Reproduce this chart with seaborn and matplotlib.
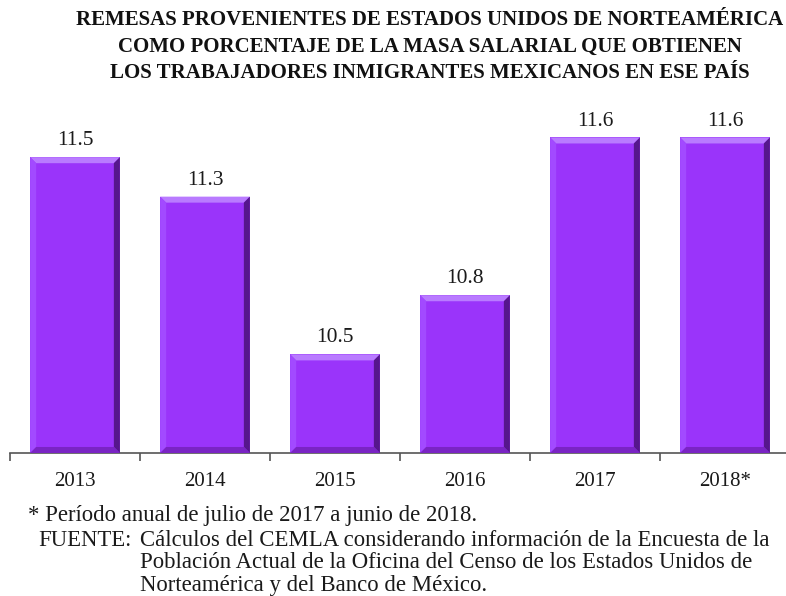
import matplotlib
matplotlib.use("Agg")
import matplotlib.pyplot as plt
from matplotlib.patches import Polygon
import seaborn as sns
import pandas as pd

years = ["2013", "2014", "2015", "2016", "2017", "2018*"]
shares = [11.5, 11.3, 10.5, 10.8, 11.6, 11.6]

title_lines = [
    "REMESAS PROVENIENTES DE ESTADOS UNIDOS DE NORTEAMÉRICA",
    "COMO PORCENTAJE DE LA MASA SALARIAL QUE OBTIENEN",
    "LOS TRABAJADORES INMIGRANTES MEXICANOS EN ESE PAÍS",
]
note = "* Período anual de julio de 2017 a junio de 2018."
source_head = "FUENTE:"
source_lines = [
    "Cálculos del CEMLA considerando información de la Encuesta de la",
    "Población Actual de la Oficina del Censo de los Estados Unidos de",
    "Norteamérica y del Banco de México.",
]

sns.set_theme(style="white")
plt.rcParams["font.family"] = ["Liberation Serif", "DejaVu Serif"]

W, H = 786, 596
fig = plt.figure(figsize=(W / 100, H / 100), dpi=100)
ax = fig.add_axes([10 / W, 143 / H, 780 / W, 353 / H])

df = pd.DataFrame({"year": years, "share": shares})
sns.barplot(data=df, x="year", y="share", color="#9A34FA", saturation=1,
            width=0.69, ax=ax, edgecolor="none")

ax.set_ylim(10.0, 11.79)
ax.set_xlim(-0.5, 5.5)

# bevel on each bar: light top/left, dark right/bottom
dx = 6 / 130
dy = 6 / 197
for p in ax.patches:
    x0, w = p.get_x(), p.get_width()
    y0, h = p.get_y(), p.get_height()
    x1, y1 = x0 + w, y0 + h
    y0v = 10.0
    top = Polygon([(x0, y1), (x1, y1), (x1 - dx, y1 - dy), (x0 + dx, y1 - dy)],
                  closed=True, facecolor="#B97BFF", edgecolor="none", zorder=3)
    left = Polygon([(x0, y0v), (x0, y1), (x0 + dx, y1 - dy), (x0 + dx, y0v + dy)],
                   closed=True, facecolor="#A24AFF", edgecolor="none", zorder=3)
    right = Polygon([(x1, y0v), (x1, y1), (x1 - dx, y1 - dy), (x1 - dx, y0v + dy)],
                    closed=True, facecolor="#56168C", edgecolor="none", zorder=3)
    bottom = Polygon([(x0, y0v), (x1, y0v), (x1 - dx, y0v + dy), (x0 + dx, y0v + dy)],
                     closed=True, facecolor="#7A24C4", edgecolor="none", zorder=3)
    for poly in (top, left, right, bottom):
        ax.add_patch(poly)

ax.bar_label(ax.containers[0], labels=[f"{v:.1f}" for v in shares],
             padding=5, fontsize=15.5, color="#1a1a1a")

for s in ("top", "right", "left"):
    ax.spines[s].set_visible(False)
ax.spines["bottom"].set_color("#555555")
ax.spines["bottom"].set_linewidth(1.2)

ax.set_yticks([])
ax.set_xlabel("")
ax.set_ylabel("")
ax.set_xticks(range(len(years)))
ax.set_xticklabels(years, fontsize=15, color="#1a1a1a")
ax.set_xticks([i - 0.5 for i in range(len(years) + 1)], minor=True)
ax.tick_params(axis="x", which="major", length=0, pad=14)
ax.tick_params(axis="x", which="minor", length=6, width=1.2, color="#555555",
               direction="out", bottom=True)

title_y = [20, 47, 73]
for line, yy in zip(title_lines, title_y):
    fig.text(430 / W, 1 - yy / H, line, ha="center", va="center",
             fontsize=15.0, fontweight="bold", color="#111111")

fig.text(28 / W, 1 - 515 / H, note, ha="left", va="center", fontsize=16.4,
         color="#1a1a1a")
fig.text(38 / W, 1 - 540 / H, source_head, ha="left", va="center", fontsize=16.4,
         color="#1a1a1a")
for line, yy in zip(source_lines, [540, 563, 586]):
    fig.text(140 / W, 1 - yy / H, line, ha="left", va="center", fontsize=16.4,
             color="#1a1a1a")

fig.savefig("out.png", dpi=100, facecolor="white")
